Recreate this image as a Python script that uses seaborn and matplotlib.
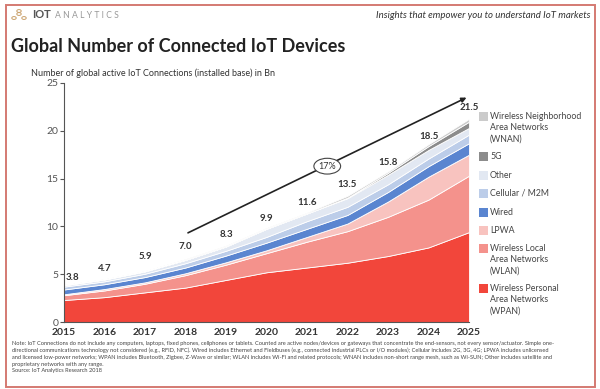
import numpy as np
import pandas as pd
import matplotlib
matplotlib.use("Agg")
import matplotlib.pyplot as plt
from matplotlib.patches import Rectangle, Ellipse, Circle
import seaborn as sns

years = [2015, 2016, 2017, 2018, 2019, 2020, 2021, 2022, 2023, 2024, 2025]
totals = [3.8, 4.7, 5.9, 7.0, 8.3, 9.9, 11.6, 13.5, 15.8, 18.5, 21.5]

# segment sizes (Bn)
wpan = [2.3, 2.6, 3.1, 3.6, 4.4, 5.2, 5.7, 6.2, 6.9, 7.8, 9.4]
wlan = [0.5, 0.7, 0.9, 1.3, 1.6, 2.0, 2.7, 3.3, 4.1, 5.0, 5.9]
lpwa = [0.1, 0.15, 0.15, 0.2, 0.25, 0.3, 0.5, 0.8, 1.6, 2.4, 2.2]
wired = [0.5, 0.5, 0.55, 0.6, 0.7, 0.8, 0.85, 0.9, 1.0, 1.1, 1.2]
cellular = [0.3, 0.3, 0.35, 0.45, 0.5, 0.6, 0.8, 0.85, 0.8, 0.8, 0.9]
other = [0.15, 0.2, 0.25, 0.35, 0.45, 0.85, 0.8, 0.9, 1.0, 0.9, 0.7]
g5 = [0, 0, 0, 0, 0, 0, 0, 0.05, 0.2, 0.4, 0.65]
wnan = [0.05, 0.05, 0.05, 0.1, 0.1, 0.1, 0.1, 0.2, 0.15, 0.2, 0.3]

labels = ["Wireless Personal\nArea Networks\n(WPAN)", "Wireless Local\nArea Networks\n(WLAN)",
          "LPWA", "Wired", "Cellular / M2M", "Other", "5G",
          "Wireless Neighborhood\nArea Networks\n(WNAN)"]
colors = ["#f2463b", "#f4928c", "#f8c3bf", "#5a85d0", "#bccde9", "#e2e8f2", "#8c8c8c", "#cbcbcb"]
cagr = "17%"

df = pd.DataFrame({"WPAN": wpan, "WLAN": wlan, "LPWA": lpwa, "Wired": wired,
                   "Cellular": cellular, "Other": other, "5G": g5, "WNAN": wnan}, index=years)

sns.set_theme(style="ticks")
plt.rcParams["font.family"] = ["Lato", "DejaVu Sans"]

W, H = 600, 389
fig = plt.figure(figsize=(6, 3.89), dpi=100)

def fx(x):
  return x / W

def fy(y):
  return 1 - y / H

ax = fig.add_axes([fx(64), fy(322), fx(469) - fx(64), fy(83) - fy(322)])
ax.stackplot(df.index, df.T.values, colors=colors, edgecolor="white", linewidth=0.6)
ax.set_xlim(2015, 2025)
ax.set_ylim(0, 25)
ax.set_yticks([0, 5, 10, 15, 20, 25])
ax.set_xticks(years)
ax.set_xticklabels([str(y) for y in years], fontweight="bold", fontsize=7.5, color="#333333")
ax.tick_params(axis="x", length=0, pad=4)
ax.tick_params(axis="y", length=3, width=0.8, color="#555555", labelsize=7.5, labelcolor="#555555", pad=1)
sns.despine(ax=ax, top=True, right=True)
ax.spines["left"].set_color("#555555")
ax.spines["bottom"].set_color("#555555")
ax.spines["left"].set_linewidth(0.8)
ax.spines["bottom"].set_linewidth(0.8)
ax.patch.set_alpha(0)

# total labels
for i, (yr, t) in enumerate(zip(years, totals)):
  dx = 0.22 if i == 0 else 0
  ax.text(yr + dx, t + 0.9, "%.1f" % t, ha="center", va="center", fontsize=7,
          fontweight="bold", color="#333333")

# growth arrow
ax.annotate("", xy=(2025, 23.6), xytext=(2018, 9.2),
            arrowprops=dict(arrowstyle="-|>", color="#222222", lw=1.2, mutation_scale=7),
            annotation_clip=False)
ax.add_patch(Ellipse((2021.5, 16.3), 0.66, 1.65, facecolor="white", edgecolor="#444444", lw=0.8, zorder=5))
ax.text(2021.5, 16.3, cagr, ha="center", va="center", fontsize=6.5, color="#333333", zorder=6)

# legend
leg_rows = [(117, 7), (157, 6), (176, 5), (194, 4), (213, 3), (231, 2), (249, 1), (289, 0)]
for y, k in leg_rows:
  fig.add_artist(Rectangle((fx(479), fy(y + 4)), fx(9), 9 / H, facecolor=colors[k],
                           edgecolor="none", transform=fig.transFigure))
  fig.text(fx(490), fy(y - 5), labels[k], ha="left", va="top", fontsize=6.3,
           color="#444444", linespacing=1.3)

# header
fig.add_artist(Rectangle((fx(6), fy(387)), fx(589), 382 / H, fill=False,
                         edgecolor="#d47a72", lw=1.4, transform=fig.transFigure))
for cx, cy in [(14, 18), (19, 14), (24, 18), (19, 11)]:
  fig.add_artist(Circle((fx(cx), fy(cy)), 2.2 / W, fill=False, edgecolor="#c9a06a",
                        lw=0.7, transform=fig.transFigure))
fig.text(fx(32), fy(15), "IOT", fontsize=8, fontweight="bold", color="#555555", va="center")
fig.text(fx(55), fy(15), "A N A L Y T I C S", fontsize=6.2, color="#999999", va="center")
fig.text(fx(590), fy(15), "Insights that empower you to understand IoT markets", fontsize=6.9,
         style="italic", color="#333333", ha="right", va="center")
fig.text(fx(11), fy(46), "Global Number of Connected IoT Devices", fontsize=13,
         fontweight="bold", color="#222222", va="center")
fig.text(fx(31), fy(73), "Number of global active IoT Connections (installed base) in Bn",
         fontsize=6.5, color="#333333", va="center")

note = ("Note: IoT Connections do not include any computers, laptops, fixed phones, cellphones or tablets. Counted are active nodes/devices or gateways that concentrate the end-sensors, not every sensor/actuator. Simple one-\n"
        "directional communications technology not considered (e.g., RFID, NFC). Wired includes Ethernet and Fieldbuses (e.g., connected industrial PLCs or I/O modules); Cellular includes 2G, 3G, 4G; LPWA includes unlicensed\n"
        "and licensed low-power networks; WPAN includes Bluetooth, Zigbee, Z-Wave or similar; WLAN includes Wi-Fi and related protocols; WNAN includes non-short range mesh, such as Wi-SUN; Other includes satellite and\n"
        "proprietary networks with any range.\n"
        "Source: IoT Analytics Research 2018")
fig.text(fx(12), fy(341), note, fontsize=4.1, color="#444444", va="top", linespacing=1.4)

fig.savefig("out.png", dpi=100)
